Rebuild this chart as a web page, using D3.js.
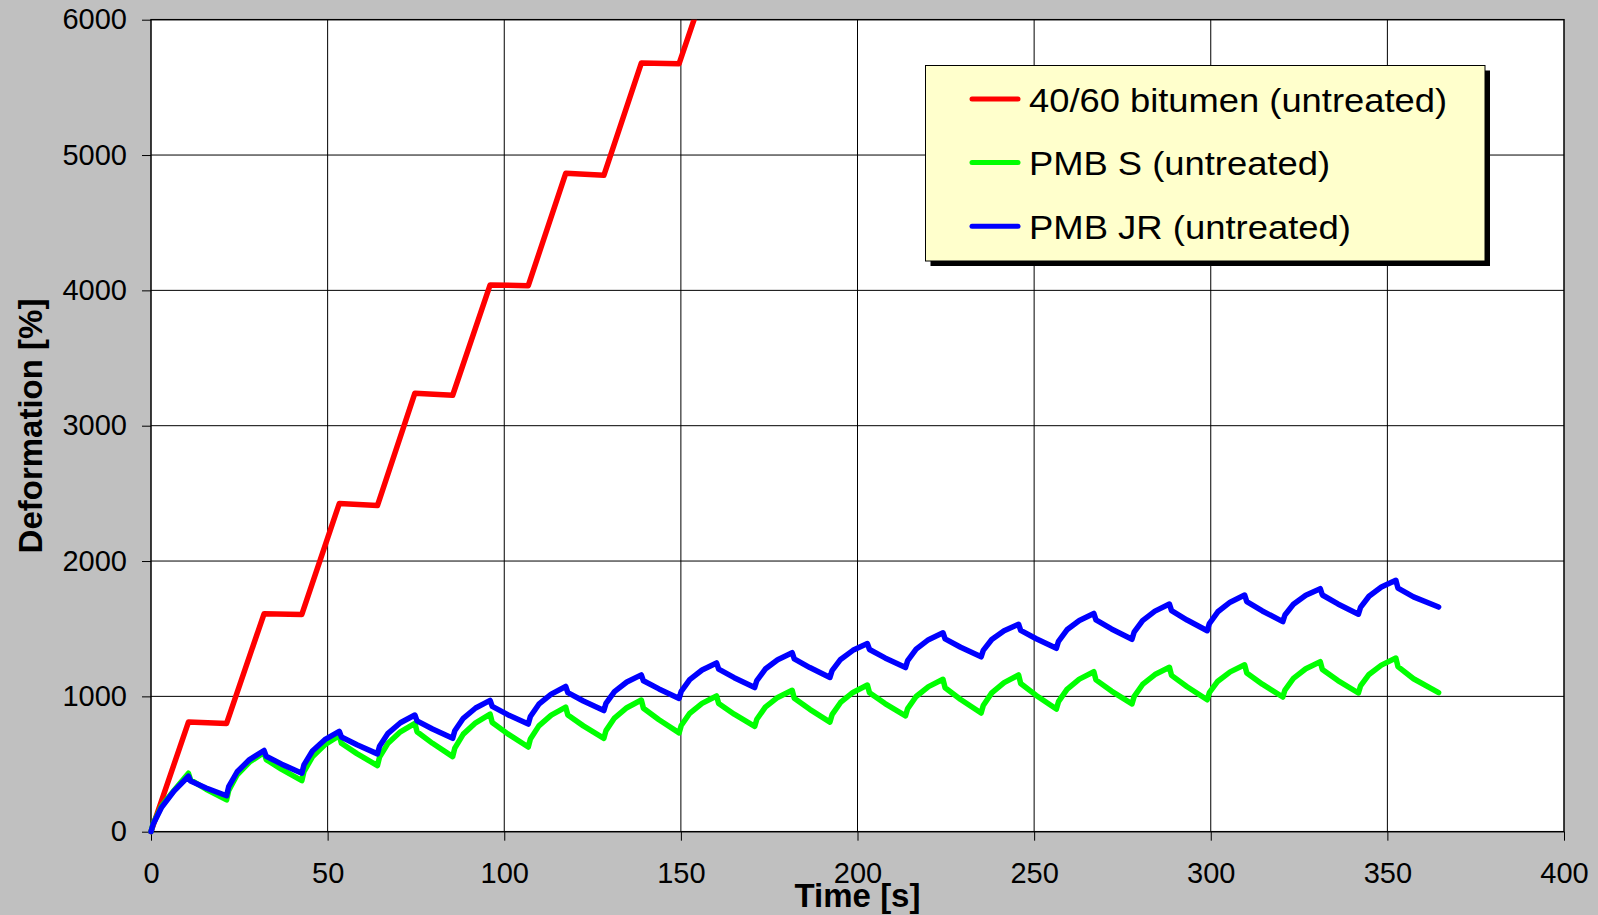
<!DOCTYPE html>
<html>
<head>
<meta charset="utf-8">
<script src="https://cdn.jsdelivr.net/npm/d3@7"></script>
<style>
  html, body { margin: 0; padding: 0; background: #c0c0c0; }
  svg { display: block; }
</style>
</head>
<body>
<div id="chart"></div>
<script>
// time axis of the creep / recovery cycles (s)
const timeRed = [0, 10.6, 21.4, 32.0, 42.7, 53.3, 64.1, 74.7, 85.4, 96.0, 106.8, 117.4, 128.2, 138.8, 149.5, 160.1];
const red40_60 = [0, 810, 800, 1610, 1605, 2425, 2410, 3240, 3225, 4040, 4035, 4865, 4850, 5680, 5675, 6490];

const timePMB = [
  0, 0.6, 3.0, 6.5, 10.6, 11.2, 15.6,
  21.4, 22.0, 24.4, 27.9, 32.0, 32.6, 37.0,
  42.7, 43.3, 45.7, 49.2, 53.3, 53.9, 58.3,
  64.1, 64.7, 67.1, 70.6, 74.7, 75.3, 79.7,
  85.4, 86.0, 88.4, 91.9, 96.0, 96.6, 101.0,
  106.8, 107.4, 109.8, 113.3, 117.4, 118.0, 122.4,
  128.2, 128.8, 131.2, 134.7, 138.8, 139.4, 143.8,
  149.5, 150.1, 152.5, 156.0, 160.1, 160.7, 165.1,
  170.9, 171.5, 173.9, 177.4, 181.5, 182.1, 186.5,
  192.2, 192.8, 195.2, 198.7, 202.8, 203.4, 207.8,
  213.6, 214.2, 216.6, 220.1, 224.2, 224.8, 229.2,
  235.0, 235.6, 238.0, 241.5, 245.6, 246.2, 250.6,
  256.3, 256.9, 259.3, 262.8, 266.9, 267.5, 271.9,
  277.7, 278.3, 280.7, 284.2, 288.3, 288.9, 293.3,
  299.0, 299.6, 302.0, 305.5, 309.6, 310.2, 314.6,
  320.4, 321.0, 323.4, 326.9, 331.0, 331.6, 336.0,
  341.8, 342.4, 344.8, 348.3, 352.4, 353.0, 357.4,
  364.5
];

const pmbS = [
  0, 60, 190, 305, 432, 383, 314,
  235, 305, 421, 515, 585, 533, 460,
  377, 444, 553, 643, 710, 654, 577,
  488, 551, 654, 738, 801, 739, 653,
  555, 618, 721, 805, 868, 807, 723,
  626, 685, 782, 861, 920, 862, 782,
  690, 747, 840, 916, 973, 912, 827,
  730, 785, 875, 948, 1003, 947, 868,
  778, 831, 920, 992, 1045, 986, 904,
  810, 865, 955, 1029, 1084, 1027, 947,
  856, 910, 999, 1072, 1126, 1064, 977,
  877, 933, 1026, 1102, 1158, 1095, 1007,
  906, 961, 1052, 1127, 1182, 1122, 1039,
  944, 998, 1088, 1161, 1215, 1155, 1071,
  975, 1027, 1112, 1181, 1233, 1173, 1090,
  995, 1047, 1133, 1204, 1256, 1198, 1117,
  1025, 1077, 1162, 1231, 1283, 1220, 1130,
  1027
];

const pmbJR = [
  0, 55, 180, 300, 410, 374, 323,
  266, 333, 443, 533, 600, 558, 499,
  432, 494, 596, 680, 742, 700, 642,
  575, 632, 727, 805, 862, 819, 759,
  690, 746, 838, 914, 970, 926, 865,
  795, 851, 942, 1017, 1073, 1028, 966,
  895, 948, 1035, 1106, 1159, 1115, 1055,
  985, 1037, 1124, 1195, 1247, 1201, 1138,
  1065, 1117, 1202, 1271, 1323, 1277, 1213,
  1140, 1190, 1273, 1340, 1390, 1346, 1284,
  1213, 1264, 1349, 1419, 1470, 1425, 1363,
  1292, 1340, 1420, 1485, 1533, 1488, 1426,
  1355, 1407, 1492, 1561, 1613, 1565, 1498,
  1422, 1474, 1560, 1630, 1682, 1633, 1564,
  1485, 1538, 1625, 1696, 1749, 1700, 1631,
  1552, 1601, 1681, 1747, 1796, 1749, 1683,
  1607, 1657, 1740, 1808, 1858, 1800, 1735,
  1660
];

const seriesNames = ["40/60 bitumen (untreated)", "PMB S (untreated)", "PMB JR (untreated)"];
const seriesColors = ["#ff0000", "#00ff00", "#0000ff"];
const legendTextWidths = [418, 301, 322];
const xTicks = [0, 50, 100, 150, 200, 250, 300, 350, 400];
const yTicks = [0, 1000, 2000, 3000, 4000, 5000, 6000];

const width = 1598;
const height = 915;
const marginLeft = 151, marginRight = 34, marginTop = 19.7, marginBottom = 83.3;
const font = "'Liberation Sans', Arial, sans-serif";

const x = d3.scaleLinear([0, 400], [marginLeft, width - marginRight]);
const y = d3.scaleLinear([0, 6000], [height - marginBottom, marginTop]);

const svg = d3.select("#chart").append("svg")
  .attr("width", width)
  .attr("height", height)
  .attr("viewBox", [0, 0, width, height]);

svg.append("rect").attr("width", width).attr("height", height).attr("fill", "#c0c0c0");

// plot area
svg.append("rect")
  .attr("x", x(0)).attr("y", y(6000))
  .attr("width", x(400) - x(0)).attr("height", y(0) - y(6000))
  .attr("fill", "#fff");

// grid
svg.append("g").selectAll("line").data(xTicks.slice(1, -1)).join("line")
  .attr("x1", d => x(d)).attr("x2", d => x(d))
  .attr("y1", y(0)).attr("y2", y(6000))
  .attr("stroke", "#000").attr("stroke-width", 1);
svg.append("g").selectAll("line").data(yTicks.slice(1, -1)).join("line")
  .attr("x1", x(0)).attr("x2", x(400))
  .attr("y1", d => y(d)).attr("y2", d => y(d))
  .attr("stroke", "#000").attr("stroke-width", 1);

// axes
const gx = svg.append("g")
  .attr("transform", `translate(0,${y(0)})`)
  .call(d3.axisBottom(x).tickValues(xTicks).tickFormat(d3.format("d"))
    .tickSize(9).tickPadding(22).tickSizeOuter(0));
const gy = svg.append("g")
  .attr("transform", `translate(${x(0)},0)`)
  .call(d3.axisLeft(y).tickValues(yTicks).tickFormat(d3.format("d"))
    .tickSize(9).tickPadding(15).tickSizeOuter(0));
[gx, gy].forEach(g => {
  g.select(".domain").remove();
  g.selectAll("line").attr("stroke", "#000");
  g.selectAll("text").attr("font-family", font).attr("font-size", 29).attr("fill", "#000");
});

// frame
svg.append("rect")
  .attr("x", x(0)).attr("y", y(6000))
  .attr("width", x(400) - x(0)).attr("height", y(0) - y(6000))
  .attr("fill", "none").attr("stroke", "#000").attr("stroke-width", 1.5);

// lines
svg.append("clipPath").attr("id", "plotclip").append("rect")
  .attr("x", x(0) - 3).attr("y", y(6000))
  .attr("width", x(400) - x(0) + 3).attr("height", y(0) - y(6000) + 3);

const line = d3.line().x(d => x(d[0])).y(d => y(d[1]));
const lines = [
  d3.zip(timeRed, red40_60),
  d3.zip(timePMB, pmbS),
  d3.zip(timePMB, pmbJR)
];
svg.append("g").attr("clip-path", "url(#plotclip)")
  .selectAll("path").data(lines).join("path")
  .attr("d", line)
  .attr("fill", "none")
  .attr("stroke", (d, i) => seriesColors[i])
  .attr("stroke-width", 5.5)
  .attr("stroke-linejoin", "round")
  .attr("stroke-linecap", "round");

// legend
const lg = svg.append("g");
lg.append("rect").attr("x", 930.5).attr("y", 70.5).attr("width", 559.5).attr("height", 195.5).attr("fill", "#000");
lg.append("rect").attr("x", 925.5).attr("y", 65.5).attr("width", 559.5).attr("height", 195.5)
  .attr("fill", "#ffffcc").attr("stroke", "#000").attr("stroke-width", 1);
seriesNames.forEach((name, i) => {
  const yy = 99 + i * 63.6;
  lg.append("line").attr("x1", 972).attr("x2", 1018).attr("y1", yy).attr("y2", yy)
    .attr("stroke", seriesColors[i]).attr("stroke-width", 5).attr("stroke-linecap", "round");
  lg.append("text").attr("x", 1029).attr("y", yy + 12.5)
    .attr("font-family", font).attr("font-size", 34).attr("fill", "#000")
    .attr("textLength", legendTextWidths[i]).attr("lengthAdjust", "spacingAndGlyphs")
    .text(name);
});

// axis titles
svg.append("text")
  .attr("x", (x(0) + x(400)) / 2).attr("y", 907)
  .attr("text-anchor", "middle")
  .attr("font-family", font).attr("font-weight", "bold").attr("font-size", 33)
  .text("Time [s]");
svg.append("text")
  .attr("transform", `translate(41.5,426) rotate(-90)`)
  .attr("text-anchor", "middle")
  .attr("font-family", font).attr("font-weight", "bold").attr("font-size", 33)
  .text("Deformation [%]");
</script>
</body>
</html>
